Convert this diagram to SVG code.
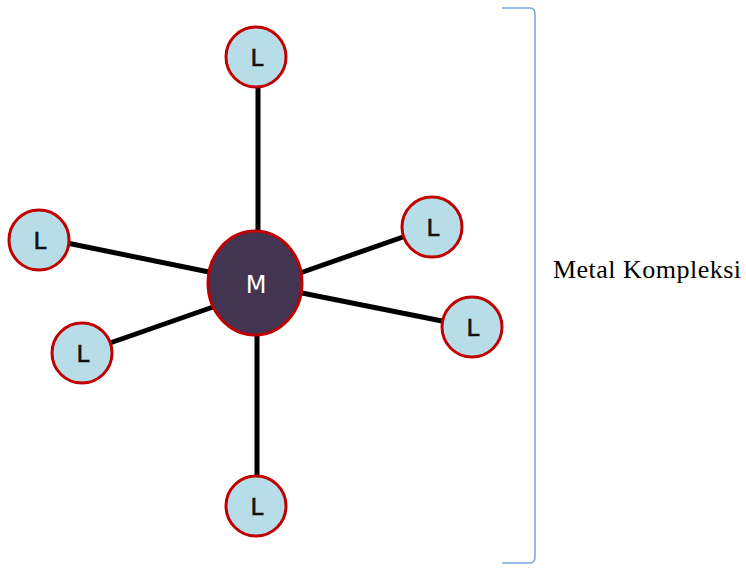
<svg xmlns="http://www.w3.org/2000/svg" width="746" height="568" viewBox="0 0 746 568">
<style>
.lig{fill:#b7dde8;stroke:#c00000;stroke-width:3}
.lt{font-family:"DejaVu Sans",sans-serif;font-size:23px;fill:#111;text-anchor:middle;stroke:#111;stroke-width:0.6}
.bond{stroke:#000;stroke-width:5;stroke-linecap:butt}
</style>
<rect width="746" height="568" fill="#fff"/>
<g id="connectors">
<line class="bond" x1="258" y1="87" x2="258" y2="232"/>
<line class="bond" x1="257" y1="335" x2="257" y2="476"/>
<line class="bond" x1="67" y1="243" x2="209" y2="272"/>
<line class="bond" x1="110" y1="343" x2="213" y2="307"/>
<line class="bond" x1="300" y1="273" x2="403" y2="237"/>
<line class="bond" x1="302" y1="293" x2="442" y2="321"/>
</g>
<g id="M">
<ellipse cx="255" cy="283" rx="47" ry="52" fill="#433452" stroke="#c00000" stroke-width="3"/>
<text x="256" y="293" font-family="DejaVu Sans,sans-serif" font-size="24" fill="#fff" text-anchor="middle">M</text>
</g>
<g id="L1"><circle class="lig" cx="256" cy="57" r="30"/><text class="lt" x="257" y="66">L</text></g>
<g id="L2"><circle class="lig" cx="39" cy="240" r="30"/><text class="lt" x="40" y="249">L</text></g>
<g id="L3"><circle class="lig" cx="82" cy="353" r="30"/><text class="lt" x="83" y="362">L</text></g>
<g id="L4"><circle class="lig" cx="432" cy="227" r="30"/><text class="lt" x="433" y="236">L</text></g>
<g id="L5"><circle class="lig" cx="472" cy="327" r="30"/><text class="lt" x="473" y="336">L</text></g>
<g id="L6"><circle class="lig" cx="256" cy="506" r="30"/><text class="lt" x="257" y="515">L</text></g>
<g id="bracket">
<path d="M502,8 L530,8 Q535,8 535,14 L535,557 Q535,563 530,563 L502,563" fill="none" stroke="#7aa3dc" stroke-width="1.5"/>
</g>
<text x="553" y="278" font-family="Liberation Serif,serif" font-size="26" fill="#000" textLength="188">Metal Kompleksi</text>
</svg>
